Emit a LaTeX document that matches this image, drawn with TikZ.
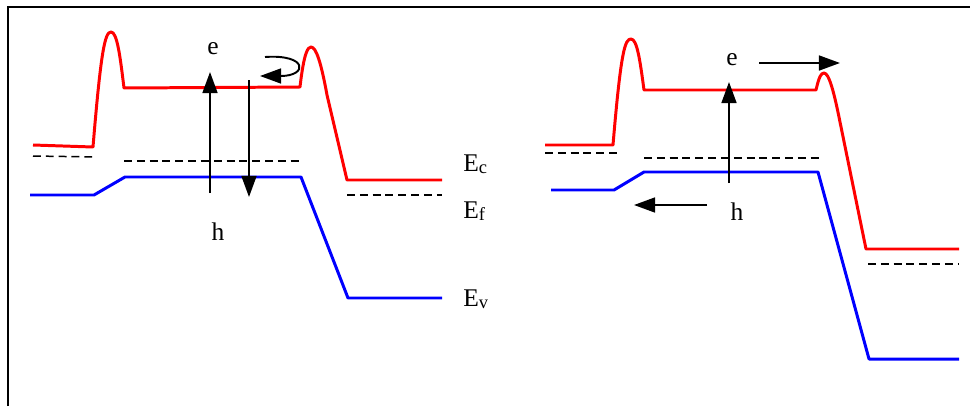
\documentclass[tikz,border=0pt]{standalone}
\usepackage{fontspec}
\setmainfont{Liberation Serif}
\usetikzlibrary{arrows.meta}

\newcommand{\bandsub}[1]{\raisebox{-1.2pt}{\fontsize{10.5}{12}\selectfont #1}}

\begin{document}
\begin{tikzpicture}[x=0.02cm, y=-0.02cm, every node/.style={font=\fontsize{14.5}{17}\selectfont, inner sep=0pt},
	>={Triangle[length=12pt,width=8.5pt]},
	cband/.style={red, line width=1.7pt, line join=round},
	vband/.style={blue, line width=1.7pt, line join=round},
	fermi/.style={dash pattern=on 4.5pt off 2.8pt, line width=0.85pt},
	carrier/.style={->, line width=1.1pt}]
	\useasboundingbox (0,0) rectangle (970,406);
	\draw[line width=1.1pt] (8,406) -- (8,7) -- (970,7);
	\draw[cband] (33,145) -- (93,147) .. controls (101,50) and (105,32) .. (111,32) .. controls (117,32) and (120,55) .. (124,88) -- (300,87) .. controls (304,52) and (308,47) .. (311,47) .. controls (316,47) and (321,62) .. (327,95) -- (347,180) -- (442,180);
	\draw[fermi] (33,156) -- (97,157);
	\draw[fermi] (124,161) -- (303,161);
	\draw[fermi] (347,195) -- (442,195);
	\draw[vband] (30,195) -- (94,195) -- (125,177) -- (301,177) -- (348,298) -- (442,298);
	\draw[carrier] (210,193) -- (210,72);
	\draw[carrier] (249,80) -- (249,197);
	\draw[carrier] (265,57) .. controls (308,54) and (308,76) .. (260,76);
	\node[anchor=base] (eLeft) at (213,54) {e};
	\node[anchor=base] (hLeft) at (218,240) {h};
	\node[anchor=base west] (Ec) at (463,171) {E\bandsub{c}};
	\node[anchor=base west] (Ef) at (463,218) {E\bandsub{f}};
	\node[anchor=base west] (Ev) at (463,306) {E\bandsub{v}};
	\draw[cband] (545,145) -- (613,145) .. controls (621,50) and (625,39) .. (631,39) .. controls (637,39) and (640,60) .. (644,90) -- (816,90) .. controls (819,77) and (821,73) .. (824,73) .. controls (829,73) and (834,92) .. (840,122) -- (866,249) -- (959,249);
	\draw[fermi] (545,153) -- (618,153);
	\draw[fermi] (644,158) -- (822,158);
	\draw[fermi] (868,264) -- (959,264);
	\draw[vband] (551,190) -- (614,190) -- (644,172) -- (818,172) -- (869,359) -- (959,359);
	\draw[carrier] (729,183) -- (729,82);
	\draw[carrier] (759,63) -- (840,63);
	\draw[carrier] (707,205) -- (634,205);
	\node[anchor=base] (eRight) at (732,65) {e};
	\node[anchor=base] (hRight) at (737,220) {h};
\end{tikzpicture}
\end{document}
